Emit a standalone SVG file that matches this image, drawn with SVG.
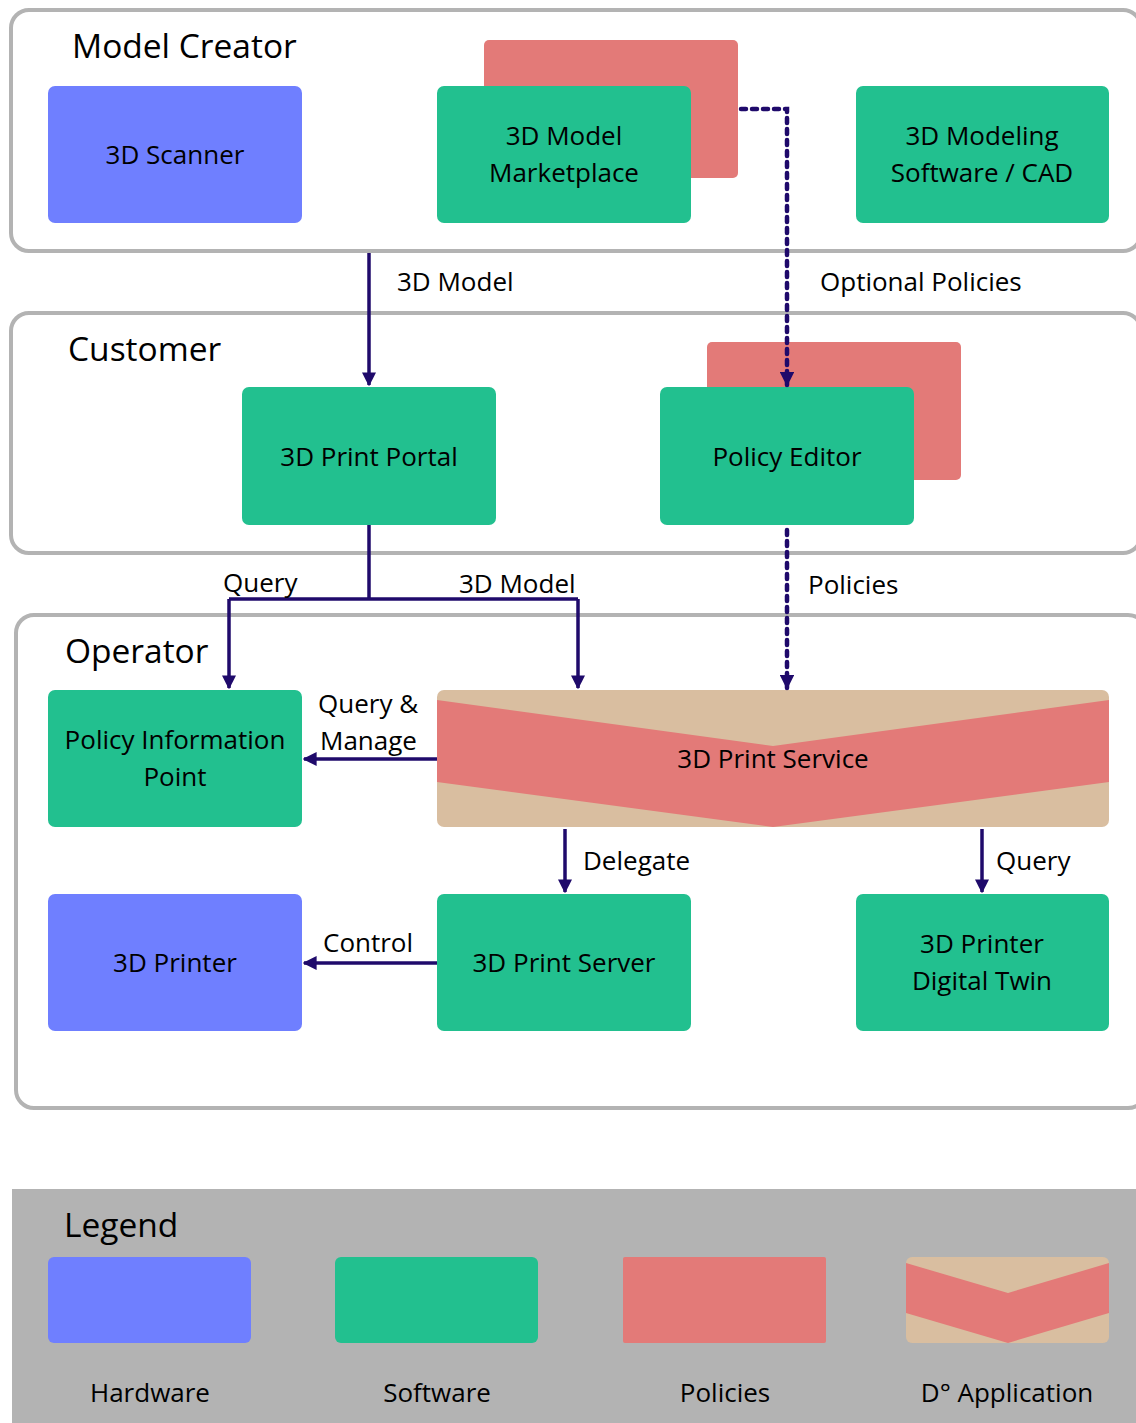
<svg xmlns="http://www.w3.org/2000/svg" width="1136" height="1423" viewBox="0 0 1136 1423">
  <style>
    text { font-family: "Open Sans", "Noto Sans", "DejaVu Sans", sans-serif; fill: #000; }
    .zone { fill: #fff; stroke: #b3b3b3; stroke-width: 4; }
    .title { font-size: 33.5px; }
    .lbl { font-size: 26px; text-anchor: middle; }
    .edge-lbl { font-size: 26px; }
    .hw { fill: #6f7fff; }
    .sw { fill: #22c08f; }
    .pol { fill: #e37a78; }
    .app { fill: #d9bea0; }
    .line { fill: none; stroke: #1f0a6b; stroke-width: 3.5; }
    .dot { fill: none; stroke: #1f0a6b; stroke-width: 4.5; stroke-dasharray: 5 6; stroke-linecap: round; }
  </style>
  <defs>
    <marker id="arrow" viewBox="0 0 10 10" refX="9" refY="5" markerWidth="4" markerHeight="4" orient="auto" markerUnits="strokeWidth">
      <path d="M0,0 L10,5 L0,10 z" fill="#1f0a6b"/>
    </marker>
    <marker id="arrow-dot" viewBox="0 0 10 10" refX="9" refY="5" markerWidth="3.2" markerHeight="3.2" orient="auto" markerUnits="strokeWidth">
      <path d="M0,0 L10,5 L0,10 z" fill="#1f0a6b"/>
    </marker>
  </defs>

  <rect width="1136" height="1423" fill="#fff"/>

  <!-- zones -->
  <g id="zone-model-creator">
    <rect class="zone" x="11" y="10" width="1130" height="241" rx="18"/>
    <text class="title" x="72" y="58">Model Creator</text>
  </g>
  <g id="zone-customer">
    <rect class="zone" x="11" y="313" width="1130" height="240" rx="18"/>
    <text class="title" x="68" y="361">Customer</text>
  </g>
  <g id="zone-operator">
    <rect class="zone" x="16" y="615" width="1130" height="493" rx="18"/>
    <text class="title" x="65" y="663">Operator</text>
  </g>

  <!-- nodes -->
  <g id="node-3d-scanner">
    <rect class="hw" x="48" y="86" width="254" height="137" rx="7"/>
    <text class="lbl" x="175" y="164">3D Scanner</text>
  </g>
  <g id="node-3d-model-marketplace">
    <rect class="pol" x="484" y="40" width="254" height="138" rx="5"/>
    <rect class="sw" x="437" y="86" width="254" height="137" rx="7"/>
    <text class="lbl" x="564" y="145">3D Model</text>
    <text class="lbl" x="564" y="182">Marketplace</text>
  </g>
  <g id="node-3d-modeling-software">
    <rect class="sw" x="856" y="86" width="253" height="137" rx="7"/>
    <text class="lbl" x="982" y="145">3D Modeling</text>
    <text class="lbl" x="982" y="182">Software / CAD</text>
  </g>
  <g id="node-3d-print-portal">
    <rect class="sw" x="242" y="387" width="254" height="138" rx="7"/>
    <text class="lbl" x="369" y="466">3D Print Portal</text>
  </g>
  <g id="node-policy-editor">
    <rect class="pol" x="707" y="342" width="254" height="138" rx="5"/>
    <rect class="sw" x="660" y="387" width="254" height="138" rx="7"/>
    <text class="lbl" x="787" y="466">Policy Editor</text>
  </g>
  <g id="node-policy-information-point">
    <rect class="sw" x="48" y="690" width="254" height="137" rx="7"/>
    <text class="lbl" x="175" y="749">Policy Information</text>
    <text class="lbl" x="175" y="786">Point</text>
  </g>
  <g id="node-3d-print-service">
    <rect class="app" x="437" y="690" width="672" height="137" rx="7"/>
    <path class="pol" d="M437,700 L773,746 L1109,700 V782 L773,827 L437,782 z"/>
    <text class="lbl" x="773" y="768">3D Print Service</text>
  </g>
  <g id="node-3d-printer">
    <rect class="hw" x="48" y="894" width="254" height="137" rx="7"/>
    <text class="lbl" x="175" y="972">3D Printer</text>
  </g>
  <g id="node-3d-print-server">
    <rect class="sw" x="437" y="894" width="254" height="137" rx="7"/>
    <text class="lbl" x="564" y="972">3D Print Server</text>
  </g>
  <g id="node-3d-printer-digital-twin">
    <rect class="sw" x="856" y="894" width="253" height="137" rx="7"/>
    <text class="lbl" x="982" y="953">3D Printer</text>
    <text class="lbl" x="982" y="990">Digital Twin</text>
  </g>

  <!-- connectors, drawn above the nodes -->
  <g id="connectors">
    <path class="line" d="M369,253 V385" marker-end="url(#arrow)"/>
    <path class="dot" d="M741,109 H787 V385" marker-end="url(#arrow-dot)"/>
    <path class="line" d="M369,525 V599"/>
    <path class="line" d="M229,599 H578"/>
    <path class="line" d="M229,599 V688" marker-end="url(#arrow)"/>
    <path class="line" d="M578,599 V688" marker-end="url(#arrow)"/>
    <path class="dot" d="M787,530 V688" marker-end="url(#arrow-dot)"/>
    <path class="line" d="M437,759 H304" marker-end="url(#arrow)"/>
    <path class="line" d="M565,829 V892" marker-end="url(#arrow)"/>
    <path class="line" d="M982,829 V892" marker-end="url(#arrow)"/>
    <path class="line" d="M437,963 H304" marker-end="url(#arrow)"/>

    <text class="edge-lbl" x="397" y="291">3D Model</text>
    <text class="edge-lbl" x="820" y="291">Optional Policies</text>
    <text class="edge-lbl" x="223" y="592">Query</text>
    <text class="edge-lbl" x="459" y="593">3D Model</text>
    <text class="edge-lbl" x="808" y="594">Policies</text>
    <text class="edge-lbl" x="318" y="713">Query &amp;</text>
    <text class="edge-lbl" x="320" y="750">Manage</text>
    <text class="edge-lbl" x="583" y="870">Delegate</text>
    <text class="edge-lbl" x="996" y="870">Query</text>
    <text class="edge-lbl" x="323" y="952">Control</text>
  </g>

  <!-- legend -->
  <g id="legend">
    <rect x="12" y="1189" width="1130" height="240" fill="#b3b3b3"/>
    <text class="title" x="64" y="1237">Legend</text>
    <rect class="hw" x="48" y="1257" width="203" height="86" rx="6"/>
    <rect class="sw" x="335" y="1257" width="203" height="86" rx="6"/>
    <rect class="pol" x="623" y="1257" width="203" height="86" rx="2"/>
    <rect class="app" x="906" y="1257" width="203" height="86" rx="6"/>
    <path class="pol" d="M906,1263 L1008,1293 L1109,1263 V1313 L1008,1343 L906,1313 z"/>
    <text class="lbl" x="150" y="1402">Hardware</text>
    <text class="lbl" x="437" y="1402">Software</text>
    <text class="lbl" x="725" y="1402">Policies</text>
    <text class="lbl" x="1007" y="1402">D° Application</text>
  </g>
</svg>
